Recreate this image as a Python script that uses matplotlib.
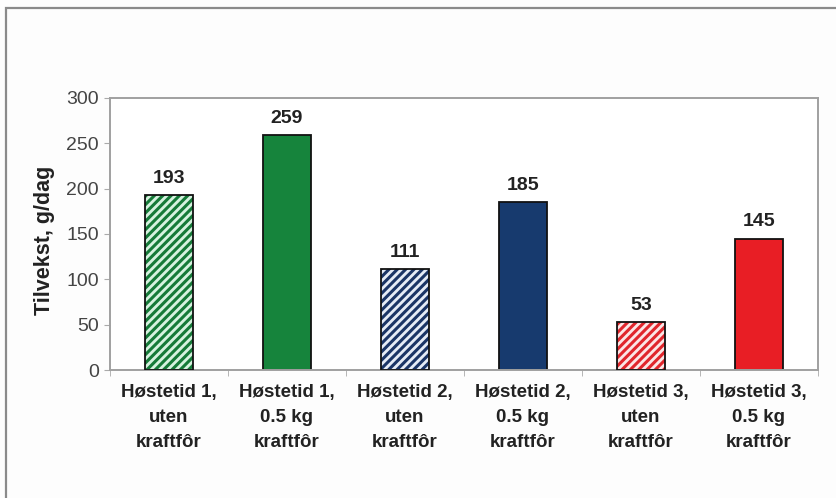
import numpy as np
import matplotlib
matplotlib.use("Agg")
import matplotlib.pyplot as plt
from matplotlib.patches import Rectangle

plt.rcParams['font.family'] = ['Liberation Sans', 'DejaVu Sans']
plt.rcParams['hatch.linewidth'] = 2.2

# data
labels = ["Høstetid 1,\nuten\nkraftfôr", "Høstetid 1,\n0.5 kg\nkraftfôr",
          "Høstetid 2,\nuten\nkraftfôr", "Høstetid 2,\n0.5 kg\nkraftfôr",
          "Høstetid 3,\nuten\nkraftfôr", "Høstetid 3,\n0.5 kg\nkraftfôr"]
values = [193, 259, 111, 185, 53, 145]
yticks = [0, 50, 100, 150, 200, 250, 300]

# fill / stripe colours, stripes only on the "uten kraftfôr" bars
fills = ["#d6f2df", "#16843c", "#e6ecf6", "#173a6e", "#fbe6e6", "#e81e25"]
stripes = ["#157a38", None, "#1b3566", None, "#e0262c", None]

fig = plt.figure(figsize=(8.37, 4.98), dpi=100)
fig.patch.set_facecolor("#fdfdfd")

# outer frame (cut off at right and bottom like the scan)
fig.add_artist(Rectangle((6 / 837, -0.1), 1.2, (498 - 8) / 498 + 0.1,
                         transform=fig.transFigure, fill=False,
                         edgecolor="#8a8a8a", linewidth=1.6))

ax = fig.add_axes([110 / 837, (498 - 370) / 498, 708 / 837, 272 / 498])
ax.set_facecolor("white")

x = np.arange(len(values))
w = 0.41
for i, v in enumerate(values):
    if stripes[i] is not None:
        ax.bar(x[i], v, w, color=fills[i], edgecolor=stripes[i],
               hatch="////", linewidth=0, zorder=2)
        ax.bar(x[i], v, w, fill=False, edgecolor="#111111",
               linewidth=1.3, zorder=3)
    else:
        ax.bar(x[i], v, w, color=fills[i], edgecolor="#111111",
               linewidth=1.3, zorder=2)
    ax.text(x[i], v + 9, str(v), ha="center", va="bottom",
            fontsize=14, fontweight="bold", color="#222222")

ax.set_xlim(-0.5, len(values) - 0.5)
ax.set_ylim(0, 300)
ax.set_yticks(yticks)
ax.set_yticklabels([str(t) for t in yticks], fontsize=14, color="#444444")
ax.set_xticks(x)
ax.set_xticklabels(labels, fontsize=13.5, fontweight="bold",
                   color="#222222", linespacing=1.62)
ax.tick_params(axis="x", length=0, pad=10)
ax.set_xticks(np.arange(len(values) + 1) - 0.5, minor=True)
ax.tick_params(axis="x", which="minor", length=4, color="#aaaaaa")
ax.tick_params(axis="y", length=4, color="#aaaaaa", pad=4)

ax.set_ylabel("Tilvekst, g/dag", fontsize=15.5, fontweight="bold",
              color="#222222")
ax.yaxis.set_label_coords(-0.078, 0.475)

for s in ax.spines.values():
    s.set_color("#a0a0a0")
    s.set_linewidth(1.4)

fig.savefig("out.png", dpi=100, facecolor=fig.get_facecolor())
